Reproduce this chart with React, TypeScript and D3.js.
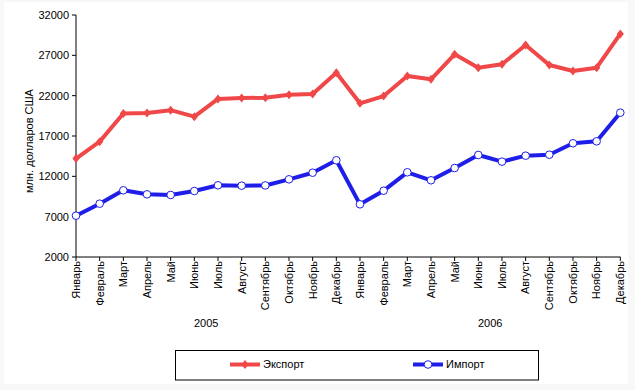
import React from "react";
import * as d3 from "d3";

const months = ["Январь","Февраль","Март","Апрель","Май","Июнь","Июль","Август","Сентябрь","Октябрь","Ноябрь","Декабрь"];
const years = ["2005", "2006"];
const exportValues = [14200,16300,19800,19850,20200,19400,21600,21700,21750,22100,22200,24850,
  21050,21950,24440,24030,27130,25470,25890,28280,25800,25060,25470,29650];
const importValues = [7120,8610,10270,9770,9690,10180,10890,10840,10870,11630,12450,13990,
  8530,10220,12500,11510,13030,14650,13820,14560,14680,16100,16340,19890];
const yTicks = [2000,7000,12000,17000,22000,27000,32000];

const W = 635, H = 390;
const font = "Arial, 'Liberation Sans', sans-serif";

export default function App() {
  const n = exportValues.length;
  const x = d3.scaleLinear().domain([0, n - 1]).range([76, 620.3]);
  const y = d3.scaleLinear().domain([2000, 32000]).range([257, 15]);
  const line = d3.line<number>().x((_, i) => x(i)).y(d => y(d));
  const labels = years.flatMap(yr => months.map(m => ({ m, yr })));
  const red = "#f04848";
  const blue = "#1e1ee8";
  const diamond = (cx: number, cy: number, r: number) =>
    `M${cx},${cy - r}L${cx + r * 0.8},${cy}L${cx},${cy + r}L${cx - r * 0.8},${cy}Z`;

  return (
    <svg width={W} height={H} style={{ position: "absolute", left: 0, top: 0 }} fontFamily={font}>
      <rect x={0} y={0} width={W} height={H} fill="#f8f8f8" />
      <rect x={4} y={2} width={624} height={382} fill="#ffffff" />
      {/* y axis */}
      <line x1={76} x2={76} y1={15} y2={257} stroke="#000" strokeWidth={1} />
      {yTicks.map(t => (
        <g key={t}>
          <line x1={72} x2={76} y1={y(t)} y2={y(t)} stroke="#000" />
          <text x={69} y={y(t)} dy="0.35em" textAnchor="end" fontSize={11}>{t}</text>
        </g>
      ))}
      <text transform={`translate(33,141) rotate(-90)`} textAnchor="middle" fontSize={11}>млн. долларов США</text>
      {/* x axis */}
      <line x1={76} x2={620.5} y1={257} y2={257} stroke="#000" />
      {labels.map((l, i) => (
        <g key={i}>
          <line x1={x(i)} x2={x(i)} y1={257} y2={261} stroke="#000" />
          <text transform={`translate(${x(i)},261) rotate(-90)`} textAnchor="end" dy="0.35em" fontSize={11}>{l.m}</text>
        </g>
      ))}
      {years.map((yr, k) => (
        <text key={yr} x={(x(k * 12) + x(k * 12 + 11)) / 2} y={327} textAnchor="middle" fontSize={11}>{yr}</text>
      ))}
      {/* series */}
      <path d={line(exportValues) || ""} fill="none" stroke={red} strokeWidth={4} strokeLinejoin="round" />
      {exportValues.map((v, i) => (
        <path key={i} d={diamond(x(i), y(v), 4.5)} fill={red} />
      ))}
      <path d={line(importValues) || ""} fill="none" stroke={blue} strokeWidth={4} strokeLinejoin="round" />
      {importValues.map((v, i) => (
        <circle key={i} cx={x(i)} cy={y(v)} r={3.8} fill="#fff" stroke={blue} strokeWidth={1} />
      ))}
      {/* legend */}
      <rect x={175.5} y={350.5} width={363} height={29.5} fill="#fff" stroke="#000" strokeWidth={1} />
      <line x1={230} x2={260} y1={364.5} y2={364.5} stroke={red} strokeWidth={4} />
      <path d={diamond(245, 364.5, 4.5)} fill={red} />
      <text x={263} y={364.5} dy="0.35em" fontSize={11}>Экспорт</text>
      <line x1={413} x2={443} y1={364.5} y2={364.5} stroke={blue} strokeWidth={4} />
      <circle cx={428} cy={364.5} r={3.8} fill="#fff" stroke={blue} strokeWidth={1} />
      <text x={446} y={364.5} dy="0.35em" fontSize={11}>Импорт</text>
    </svg>
  );
}
